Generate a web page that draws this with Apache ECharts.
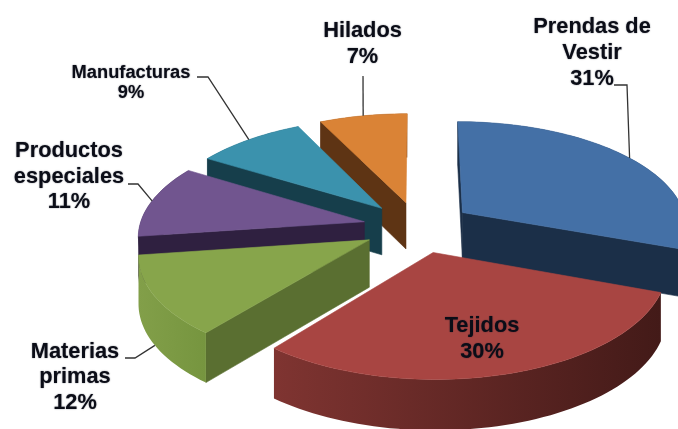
<!DOCTYPE html>
<html><head><meta charset="utf-8">
<style>html,body{margin:0;padding:0;background:#fff}#c{width:678px;height:429px}</style>
<script src="https://cdn.jsdelivr.net/npm/echarts@6/dist/echarts.min.js"></script>
</head><body><div id="c"></div>
<script>
const categories = ['Prendas de\nVestir', 'Tejidos', 'Materias\nprimas', 'Productos\nespeciales', 'Manufacturas', 'Hilados'];
const shares = [30.6, 30.2, 12, 11, 9, 7.2];
const topColors = ['#4470a6', '#a84542', '#87a54b', '#71558f', '#3b92ad', '#da8336'];
const sideColors = ['#1b2f48', '#431a18', '#5a6f31', '#2f2040', '#163e4b', '#5e3414'];
const rimFrom = ['#1b2f48', '#7f3431', '#829f49', '#2f2040', '#163e4b', '#5e3414'];
const rimTo = ['#1b2f48', '#431a18', '#76953f', '#2f2040', '#163e4b', '#5e3414'];
const paintOrder = [5, 4, 3, 2, 0, 1];
const wallInset = [0, 0, 0, 0.015, 0, 0];
const labelBoxes = [
  {x: 592, y: 53, size: 21.8, lh: 26, elbow: [[614, 85], [627, 85]]},
  {x: 482, y: 339, size: 21.8, lh: 26, elbow: null},
  {x: 75, y: 377, size: 21.8, lh: 25.5, elbow: [[125, 358], [135, 358]], onBase: true},
  {x: 69, y: 176.5, size: 21.8, lh: 25.5, elbow: [[128, 184], [138, 184]]},
  {x: 131, y: 82.5, size: 18.3, lh: 20, elbow: [[197, 77], [208, 77]]},
  {x: 362.5, y: 44, size: 21.8, lh: 26, elbow: [[363, 76]]}
];
const CX = 418, CY = 227, RX = 225, RY = 105, PERSP = 0.12, EXPLODE = 0.245, DEPTH = 47;

function project(X, Y) {
  const s = 1 / (1 - PERSP * Y);
  return [CX + RX * X * s, CY + RY * Y * s, DEPTH * Math.sqrt(s)];
}
function down(p) { return [p[0], p[1] + p[2]]; }
function flat(p) { return [p[0], p[1]]; }
function lerp(p, q, t) { return [p[0] + (q[0] - p[0]) * t, p[1] + (q[1] - p[1]) * t]; }

const total = shares.reduce((a, b) => a + b, 0);
const starts = [];
shares.reduce((acc, v, i) => { starts[i] = acc; return acc + v; }, 0);

function renderItem(params, api) {
  const i = params.dataIndex;
  const v = api.value(0);
  const a0 = starts[i] / total * Math.PI * 2;
  const a1 = a0 + v / total * Math.PI * 2;
  const am = (a0 + a1) / 2;
  const ox = Math.sin(am) * EXPLODE, oy = -Math.cos(am) * EXPLODE;
  const rim = [];
  const n = Math.max(12, Math.round(v * 2));
  for (let k = 0; k <= n; k++) {
    const a = a0 + (a1 - a0) * k / n;
    rim.push(project(ox + Math.sin(a), oy - Math.cos(a)));
  }
  const apex = project(ox, oy);
  const rank = paintOrder.indexOf(i) + 1;
  const fill = c => ({fill: c, stroke: c, lineWidth: 0.6});
  const poly = (pts, style, sub) => ({type: 'polygon', z2: rank * 10 + sub, shape: {points: pts}, style});
  const first = rim[0], last = rim[n];
  const children = [];
  if (Math.sin(a0) <= 1e-6) {
    children.push(poly([flat(apex), flat(first), lerp(down(first), down(apex), wallInset[i]), down(apex)], fill(sideColors[i]), 0));
  }
  if (Math.sin(a1) > 1e-6) {
    children.push(poly([flat(apex), flat(last), down(last), down(apex)], fill(sideColors[i]), 1));
  }
  const minX = Math.min(...rim.map(p => p[0])), maxX = Math.max(...rim.map(p => p[0]));
  const grad = {type: 'linear', global: true, x: minX, y: 0, x2: maxX, y2: 0,
    colorStops: [{offset: 0, color: rimFrom[i]}, {offset: 1, color: rimTo[i]}]};
  children.push(poly(rim.map(flat).concat(rim.slice().reverse().map(down)), {fill: grad}, 2));
  children.push(poly([flat(apex)].concat(rim.map(flat)), fill(topColors[i]), 3));

  const box = labelBoxes[i];
  if (box.elbow) {
    const mid = project(ox + Math.sin(am), oy - Math.cos(am));
    children.push({type: 'polyline', z2: 500,
      shape: {points: box.elbow.concat([box.onBase ? down(mid) : flat(mid)])},
      style: {stroke: '#333', lineWidth: 1.3, fill: null}});
  }
  children.push({type: 'text', z2: 600, x: box.x, y: box.y,
    style: {text: categories[i] + '\n' + Math.round(v) + '%', fill: '#0b0d17', align: 'center', verticalAlign: 'middle',
      font: 'bold ' + box.size + 'px "Liberation Sans", Arial, sans-serif', lineHeight: box.lh,
      textShadowBlur: 1.5, textShadowColor: 'rgba(10,13,30,0.55)'}});
  return {type: 'group', children};
}

const chart = echarts.init(document.getElementById('c'), null, {renderer: 'canvas'});
chart.setOption({
  animation: false,
  backgroundColor: '#fff',
  series: [{type: 'custom', coordinateSystem: 'none', renderItem, clip: false,
    data: shares.map((v, i) => ({name: categories[i], value: [v]}))}]
});
</script></body></html>
